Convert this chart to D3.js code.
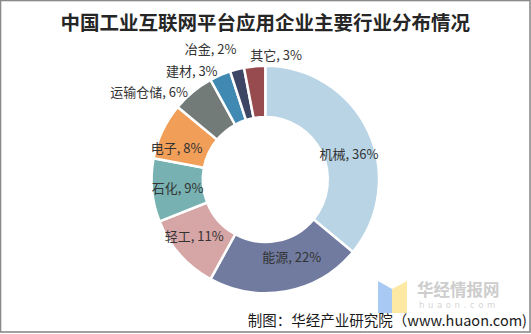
<!DOCTYPE html>
<html>
<head>
<meta charset="utf-8">
<script src="https://cdn.jsdelivr.net/npm/d3@7"></script>
<style>
  html, body { margin: 0; padding: 0; background: #fff; }
  svg { display: block; }
</style>
</head>
<body>
<svg id="chart" width="531" height="334"></svg>
<script>
// Industry shares of enterprises using industrial internet platforms (%)
const categories = ["机械", "能源", "轻工", "石化", "电子", "运输仓储", "建材", "冶金", "其它"];
const values = [36, 22, 11, 9, 8, 6, 3, 2, 3];
const colors = ["#b8d4e5", "#717ba0", "#d5a6a5", "#77b1b1", "#f19e58", "#737b78", "#3f89b3", "#3d4664", "#974b4f"];

const title = "中国工业互联网平台应用企业主要行业分布情况";
const source = "制图：华经产业研究院（www.huaon.com)";

// Label placement: "in" sits on the ring (centred); "end"/"start" sit beyond
// the outer edge with that text anchor. Nudges are small pixel shifts.
const labelSide = ["in", "in", "in", "in", "in", "end", "end", "end", "start"];
const labelNudge = [[4, 11], [10, -9], [-5, -2], [0, 0], [-9, 5], [4, 10], [3, 8], [3, -7], [-3, 2]];

const W = 531, H = 334;
const cx = 265.3, cy = 179.5;
const outerR = 113.7, innerR = 62.5;

const svg = d3.select("#chart");
const font = "'Noto Sans CJK SC', 'Noto Sans', sans-serif";

// outer frame
svg.append("rect")
  .attr("x", 0.5).attr("y", 0.5)
  .attr("width", W - 1.5).attr("height", H - 2.5)
  .attr("fill", "#fff")
  .attr("stroke", "#8a8a8a").attr("stroke-width", 1.6);

// title
svg.append("text")
  .attr("x", cx).attr("y", 30)
  .attr("text-anchor", "middle")
  .attr("font-family", "'Noto Sans CJK SC', serif")
  .attr("font-weight", 700)
  .attr("font-size", 19.5)
  .attr("fill", "#262626")
  .text(title);

// watermark logo
const wm = svg.append("g");
wm.append("path")
  .attr("d", "M378,281 L392,289 L392,313 L378,313 Z")
  .attr("fill", "#a9c9f5");
wm.append("path")
  .attr("d", "M392,289 L407,281 L407,313 L392,313 Z")
  .attr("fill", "#fde9a3");
wm.append("text")
  .attr("x", 417).attr("y", 295.5)
  .attr("font-family", font).attr("font-weight", 700)
  .attr("font-size", 16.5).attr("fill", "#cdcdcd")
  .text("华经情报网");
wm.append("text")
  .attr("x", 419).attr("y", 307.5)
  .attr("font-family", "'DejaVu Sans', sans-serif")
  .attr("font-size", 8.5).attr("letter-spacing", 3.6)
  .attr("fill", "#d6d6d6")
  .text("huaon.com");

// donut
const pie = d3.pie().sort(null).value(d => d)
  .startAngle(0).endAngle(2 * Math.PI);
const arcs = pie(values);

const arc = d3.arc().innerRadius(innerR).outerRadius(outerR);
const midArc = d3.arc().innerRadius(88).outerRadius(88);

const g = svg.append("g").attr("transform", `translate(${cx},${cy})`);

g.selectAll("path.slice")
  .data(arcs)
  .join("path")
  .attr("class", "slice")
  .attr("d", arc)
  .attr("fill", (d, i) => colors[i])
  .attr("stroke", "#fff")
  .attr("stroke-width", 2.5)
  .attr("stroke-linejoin", "miter");

// data labels
const labelR = outerR + 14;
g.selectAll("text.lbl")
  .data(arcs)
  .join("text")
  .attr("class", "lbl")
  .each(function (d, i) {
    const mid = (d.startAngle + d.endAngle) / 2;
    let x, y, anchor = "middle";
    if (labelSide[i] === "in") {
      [x, y] = midArc.centroid(d);
    } else {
      x = labelR * Math.sin(mid);
      y = -labelR * Math.cos(mid);
      anchor = labelSide[i];
    }
    d3.select(this)
      .attr("x", x + labelNudge[i][0])
      .attr("y", y + labelNudge[i][1])
      .attr("text-anchor", anchor)
      .attr("dominant-baseline", "central");
  })
  .attr("font-family", font)
  .attr("font-size", 13)
  .attr("fill", "#333")
  .text((d, i) => `${categories[i]}, ${values[i]}%`);

// source line
svg.append("text")
  .attr("x", 527).attr("y", 319)
  .attr("text-anchor", "end")
  .attr("dominant-baseline", "central")
  .attr("font-family", font)
  .attr("font-size", 14.5)
  .attr("fill", "#1a1a1a")
  .text(source);
</script>
</body>
</html>
